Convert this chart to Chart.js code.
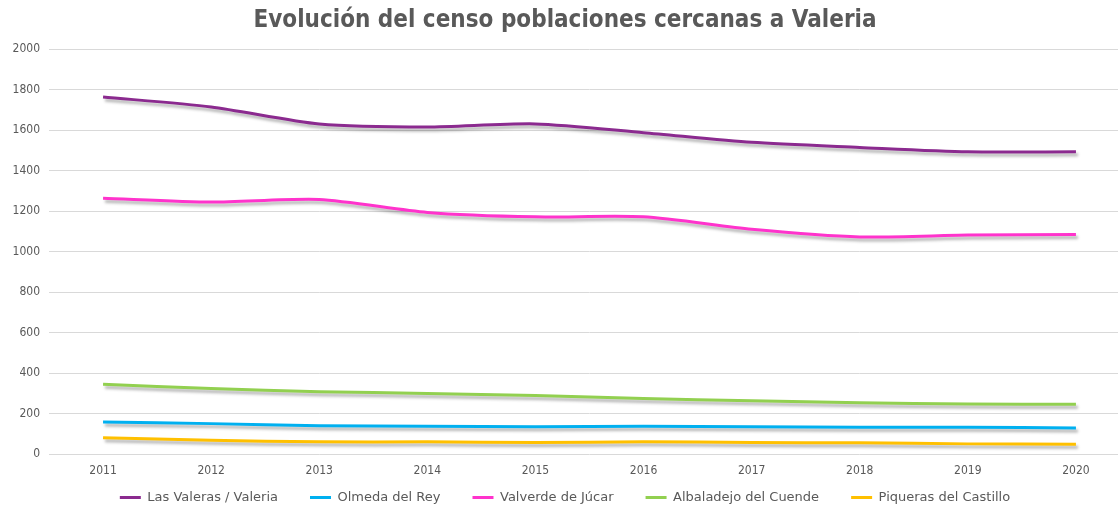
<!DOCTYPE html>
<html>
<head>
<meta charset="utf-8">
<script src="https://cdn.jsdelivr.net/npm/chart.js@4"></script>
<style>
  html, body { margin: 0; padding: 0; background: #fff; overflow: hidden; }
  #wrap { width: 1130px; height: 509px; }
</style>
</head>
<body>
<div id="wrap"><canvas id="myChart"></canvas></div>
<script>
const years = ['2011', '2012', '2013', '2014', '2015', '2016', '2017', '2018', '2019', '2020'];

const lasValeras = [1763, 1714, 1630, 1615, 1630, 1587, 1539, 1514, 1492, 1492];
const olmeda = [158, 150, 140, 137, 135, 137, 134, 132, 132, 129];
const valverde = [1263, 1244, 1257, 1193, 1171, 1171, 1110, 1072, 1081, 1084];
const albaladejo = [345, 323, 308, 299, 289, 274, 263, 253, 247, 246];
const piqueras = [80, 68, 60, 60, 57, 60, 57, 55, 50, 48];

const names = ['Las Valeras / Valeria', 'Olmeda del Rey', 'Valverde de Júcar', 'Albaladejo del Cuende', 'Piqueras del Castillo'];
const colors = ['#8B2A8F', '#00B0F0', '#FF33CC', '#92D050', '#FFC000'];
const series = [lasValeras, olmeda, valverde, albaladejo, piqueras];

const condensed = "'DejaVu Sans Condensed', 'DejaVu Sans', sans-serif";
const regular = "'DejaVu Sans', sans-serif";

// soft grey shadow under each line, like the spreadsheet original
const lineShadow = {
    id: 'lineShadow',
    beforeDatasetDraw(chart) {
        const ctx = chart.ctx;
        ctx.save();
        ctx.shadowColor = 'rgba(0, 0, 0, 0.3)';
        ctx.shadowBlur = 3;
        ctx.shadowOffsetX = 2;
        ctx.shadowOffsetY = 3;
    },
    afterDatasetDraw(chart) {
        chart.ctx.restore();
    }
};

// wide horizontal gap between legend items, but a short legend box
const legendFit = {
    id: 'legendFit',
    beforeInit(chart) {
        const legend = chart.legend;
        const fit = legend.fit;
        const draw = legend.draw;
        legend.fit = function () {
            fit.call(this);
            this.height = 31;
        };
        legend.draw = function () {
            const top = this.top;
            this.top = top - 19;
            draw.call(this);
            this.top = top;
        };
    }
};

const datasets = series.map((values, i) => ({
    label: names[i],
    data: values,
    borderColor: colors[i],
    backgroundColor: colors[i],
    borderWidth: 3,
    pointRadius: 0,
    tension: 0.25,
    fill: false
}));

new Chart(document.getElementById('myChart'), {
    type: 'line',
    data: { labels: years, datasets: datasets },
    plugins: [lineShadow, legendFit],
    options: {
        responsive: true,
        maintainAspectRatio: false,
        animation: false,
        layout: { padding: 0 },
        plugins: {
            title: {
                display: true,
                text: 'Evolución del censo poblaciones cercanas a Valeria',
                color: '#595959',
                font: { family: condensed, size: 24, weight: 'bold', lineHeight: 1.2 },
                padding: { top: 6, bottom: 14.2 }
            },
            legend: {
                position: 'bottom',
                labels: {
                    color: '#595959',
                    font: { family: regular, size: 13 },
                    boxWidth: 21,
                    boxHeight: 3,
                    padding: 32,
                    generateLabels(chart) {
                        return Chart.defaults.plugins.legend.labels.generateLabels(chart)
                            .map(l => ({ ...l, strokeStyle: 'rgba(0,0,0,0)' }));
                    }
                }
            },
            tooltip: { enabled: false }
        },
        scales: {
            x: {
                offset: true,
                grid: { display: false, drawTicks: false },
                border: { display: false },
                ticks: { color: '#595959', font: { family: condensed, size: 12 }, padding: 10 },
                afterFit(scale) { scale.height = 24; }
            },
            y: {
                min: 0,
                max: 2000,
                ticks: {
                    stepSize: 200,
                    color: '#595959',
                    font: { family: condensed, size: 12 },
                    padding: 9,
                    callback: v => String(v)
                },
                grid: { color: '#D9D9D9', drawTicks: false },
                border: { display: false },
                afterFit(scale) { scale.width = 49; }
            }
        }
    }
});
</script>
</body>
</html>
